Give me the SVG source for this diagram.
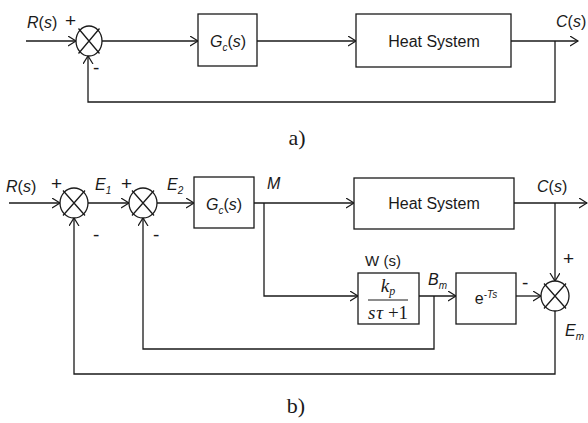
<svg xmlns="http://www.w3.org/2000/svg" width="588" height="423" viewBox="0 0 588 423">
<defs>
<marker id="arr" markerUnits="userSpaceOnUse" markerWidth="10" markerHeight="12" refX="8" refY="5" orient="auto">
<path d="M0,0 L8,5 L0,10" fill="none" stroke="#1a1a1a" stroke-width="1.2"/>
</marker>
</defs>
<style>
.ln{fill:none;stroke:#1a1a1a;stroke-width:1.3}
.bx{fill:#fff;stroke:#1a1a1a;stroke-width:1.3}
.sj{fill:#fff;stroke:#1a1a1a;stroke-width:1.3}
.t{font-family:"Liberation Sans",Arial,sans-serif;font-size:16px;fill:#1a1a1a}
.sg{font-family:"Liberation Sans",Arial,sans-serif;font-size:19px;fill:#1a1a1a}
.i{font-style:italic}
.sub{font-size:10px;font-style:italic}
.cap{font-family:"Liberation Serif","Times New Roman",serif;font-size:22px;fill:#1a1a1a}
.m{font-family:"Liberation Serif","Times New Roman",serif;font-size:19px;font-style:italic;fill:#1a1a1a}
</style>

<g id="connectors">
<!-- diagram a -->
<line class="ln" x1="26" y1="41" x2="76" y2="41" marker-end="url(#arr)"/>
<line class="ln" x1="102" y1="41" x2="198" y2="41" marker-end="url(#arr)"/>
<line class="ln" x1="257" y1="41" x2="356" y2="41" marker-end="url(#arr)"/>
<line class="ln" x1="511" y1="41" x2="578" y2="41" marker-end="url(#arr)"/>
<polyline class="ln" points="555,41 555,102 88,102 88,56" marker-end="url(#arr)"/>
<!-- diagram b -->
<line class="ln" x1="9" y1="203" x2="60" y2="203" marker-end="url(#arr)"/>
<line class="ln" x1="88" y1="203" x2="129" y2="203" marker-end="url(#arr)"/>
<line class="ln" x1="157" y1="203" x2="194" y2="203" marker-end="url(#arr)"/>
<line class="ln" x1="254" y1="203" x2="354" y2="203" marker-end="url(#arr)"/>
<line class="ln" x1="514" y1="203" x2="587" y2="203" marker-end="url(#arr)"/>
<line class="ln" x1="555" y1="203" x2="555" y2="281" marker-end="url(#arr)"/>
<polyline class="ln" points="264,203 264,296 358,296" marker-end="url(#arr)"/>
<line class="ln" x1="419" y1="296" x2="456" y2="296" marker-end="url(#arr)"/>
<line class="ln" x1="516" y1="296" x2="541" y2="296" marker-end="url(#arr)"/>
<polyline class="ln" points="555,311 555,374 74,374 74,218" marker-end="url(#arr)"/>
<polyline class="ln" points="434,296 434,349 143,349 143,218" marker-end="url(#arr)"/>
</g>

<!-- diagram a nodes -->
<g id="a-sum">
<ellipse class="sj" cx="89" cy="41" rx="13" ry="15"/>
<path class="ln" d="M78.5,28.5 L99.5,53.5 M99.5,28.5 L78.5,53.5"/>
</g>
<g id="a-gc">
<rect class="bx" x="198" y="14" width="59" height="52"/>
<text class="t" x="228" y="47" text-anchor="middle"><tspan class="i">G</tspan><tspan class="sub" dy="4">c</tspan><tspan dy="-4">(</tspan><tspan class="i">s</tspan>)</text>
</g>
<g id="a-heat">
<rect class="bx" x="356" y="14" width="155" height="53"/>
<text class="t" x="434" y="47" text-anchor="middle">Heat System</text>
</g>
<g id="a-labels">
<text class="t" x="27" y="28"><tspan class="i">R</tspan>(<tspan class="i">s</tspan>)</text>
<text class="sg" x="65" y="27">+</text>
<text class="sg" x="93" y="74">-</text>
<text class="t" x="556" y="27"><tspan class="i">C</tspan>(<tspan class="i">s</tspan>)</text>
<text class="cap" x="297" y="145" text-anchor="middle">a)</text>
</g>

<!-- diagram b nodes -->
<g id="b-sum1">
<ellipse class="sj" cx="74" cy="203" rx="14" ry="15"/>
<path class="ln" d="M63,190.5 L85,215.5 M85,190.5 L63,215.5"/>
</g>
<g id="b-sum2">
<ellipse class="sj" cx="143" cy="203" rx="14" ry="15"/>
<path class="ln" d="M132,190.5 L154,215.5 M154,190.5 L132,215.5"/>
</g>
<g id="b-gc">
<rect class="bx" x="194" y="177" width="60" height="51"/>
<text class="t" x="224" y="210" text-anchor="middle"><tspan class="i">G</tspan><tspan class="sub" dy="4">c</tspan><tspan dy="-4">(</tspan><tspan class="i">s</tspan>)</text>
</g>
<g id="b-heat">
<rect class="bx" x="354" y="178" width="160" height="51"/>
<text class="t" x="434" y="209" text-anchor="middle">Heat System</text>
</g>
<g id="b-w">
<rect class="bx" x="358" y="273" width="61" height="51"/>
<text class="t" x="383" y="266" text-anchor="middle" style="font-size:15px">W (s)</text>
<text class="m" x="388" y="292" text-anchor="middle">k<tspan style="font-size:12px" dy="3">p</tspan></text>
<line class="ln" x1="368" y1="300" x2="408" y2="300" style="stroke-width:1"/>
<text class="m" x="388" y="319" text-anchor="middle">s<tspan dx="1">τ</tspan><tspan style="font-style:normal"> +1</tspan></text>
</g>
<g id="b-delay">
<rect class="bx" x="456" y="273" width="60" height="51"/>
<text class="t" x="486" y="304" text-anchor="middle">e<tspan style="font-size:10px" dy="-6">-</tspan><tspan style="font-size:10px;font-style:italic">Ts</tspan></text>
</g>
<g id="b-sum3">
<ellipse class="sj" cx="555" cy="296" rx="14" ry="15"/>
<path class="ln" d="M544,283.5 L566,308.5 M566,283.5 L544,308.5"/>
</g>
<g id="b-labels">
<text class="t" x="6" y="192"><tspan class="i">R</tspan>(<tspan class="i">s</tspan>)</text>
<text class="sg" x="51" y="190">+</text>
<text class="t" x="95" y="190"><tspan class="i">E</tspan><tspan class="sub" dy="4">1</tspan></text>
<text class="sg" x="121" y="190">+</text>
<text class="t" x="167" y="190"><tspan class="i">E</tspan><tspan class="sub" dy="4">2</tspan></text>
<text class="sg" x="93" y="241">-</text>
<text class="sg" x="153" y="241">-</text>
<text class="t" x="267" y="189"><tspan class="i">M</tspan></text>
<text class="t" x="537" y="192"><tspan class="i">C</tspan>(<tspan class="i">s</tspan>)</text>
<text class="sg" x="563" y="265">+</text>
<text class="sg" x="522" y="289">-</text>
<text class="t" x="428" y="285"><tspan class="i">B</tspan><tspan class="sub" dy="4">m</tspan></text>
<text class="t" x="565" y="336"><tspan class="i">E</tspan><tspan class="sub" dy="4">m</tspan></text>
<text class="cap" x="296" y="413" text-anchor="middle">b)</text>
</g>
</svg>
